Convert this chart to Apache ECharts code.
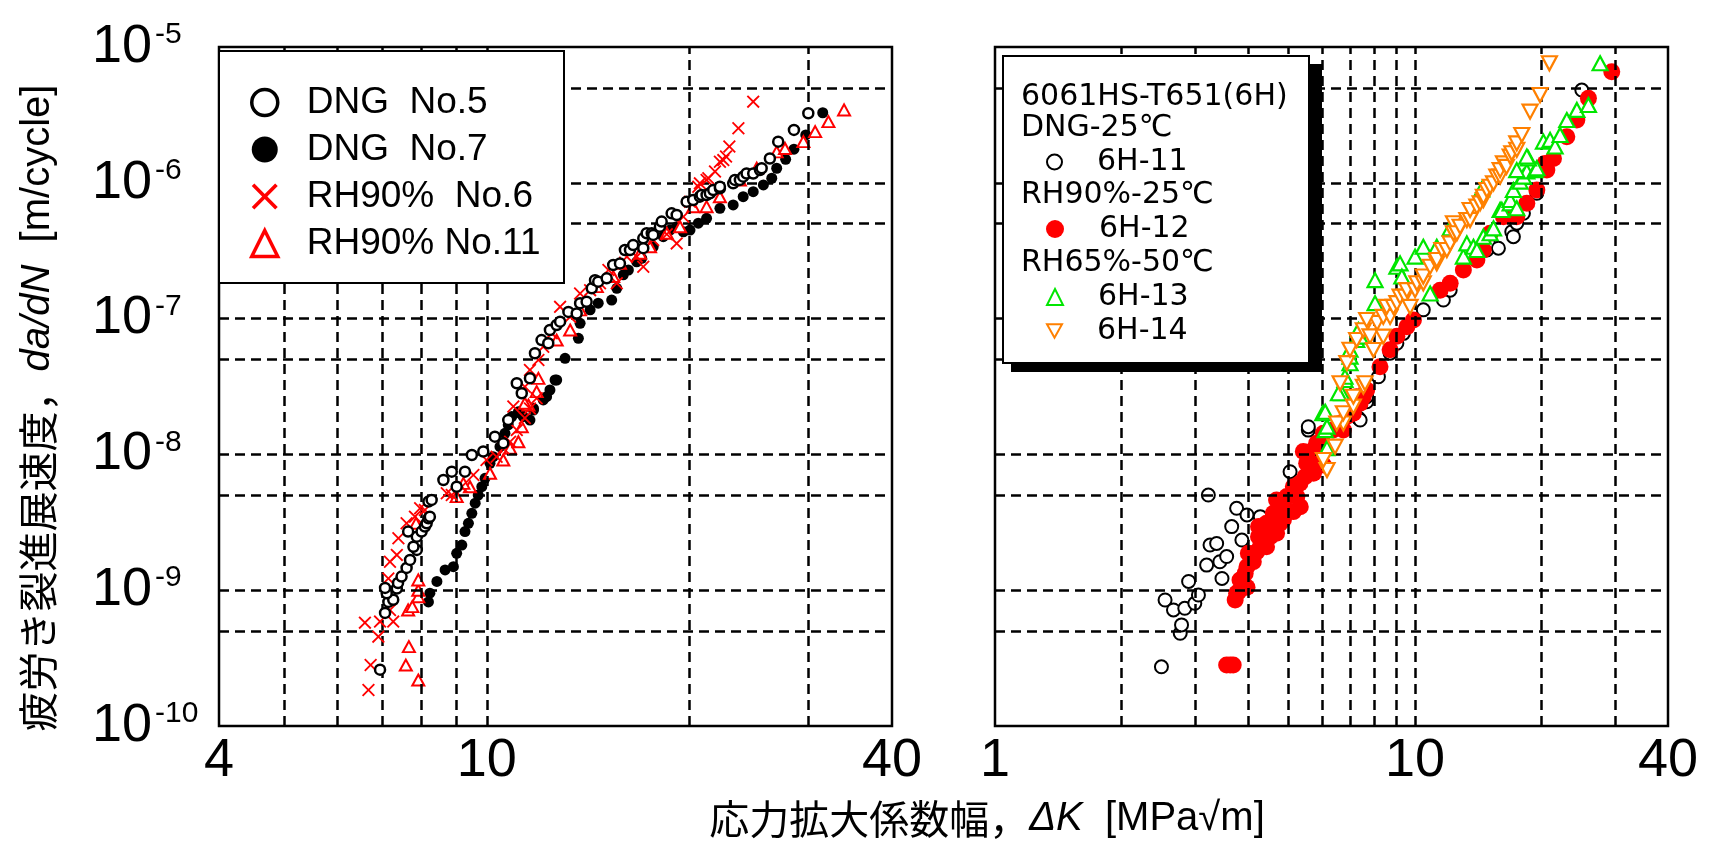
<!DOCTYPE html>
<html><head><meta charset="utf-8">
<script src="https://cdn.jsdelivr.net/npm/echarts@6/dist/echarts.min.js"></script>
<style>html,body{margin:0;padding:0;background:#fff}#c{width:1714px;height:847px}</style>
</head><body><div id="c"></div>
<script>
// ---------- data (ΔK [MPa√m], da/dN [m/cycle]) ----------
const dngNo5 = [[6.94,2.6e-10],[7.06,6.8e-10],[7.14,8.2e-10],[7.26,8.5e-10],[7.10,9.5e-10],[7.06,1.04e-9],[7.35,1.03e-9],[7.38,1.13e-9],[7.47,1.26e-9],[7.60,1.46e-9],[7.69,1.67e-9],[7.87,1.98e-9],[7.78,2.09e-9],[7.87,2.48e-9],[7.64,2.70e-9],[8.00,2.70e-9],[8.09,2.94e-9],[8.14,3.11e-9],[8.19,3.38e-9],[8.23,3.48e-9],[8.19,4.49e-9],[8.28,4.62e-9],[8.62,6.48e-9],[8.87,7.46e-9],[9.02,5.78e-9],[9.28,7.46e-9],[9.50,9.9e-9],[9.88,1.05e-8],[10.28,1.35e-8],[10.58,1.21e-8],[10.76,1.79e-8],[11.08,3.34e-8],[11.27,2.82e-8],[11.59,3.63e-8],[11.79,5.56e-8],[12.06,6.95e-8],[12.34,6.58e-8],[12.41,8.24e-8],[12.70,8.97e-8],[12.85,9.49e-8],[13.22,1.12e-7],[13.60,1.09e-7],[13.76,1.30e-7],[14.07,1.33e-7],[14.32,1.67e-7],[14.48,1.92e-7],[14.64,1.87e-7],[15.07,1.98e-7],[15.41,2.48e-7],[15.77,2.55e-7],[16.04,3.20e-7],[16.32,3.20e-7],[16.50,3.48e-7],[17.08,3.90e-7],[17.08,3.30e-7],[17.28,4.25e-7],[17.58,4.25e-7],[17.67,4.13e-7],[18.08,4.75e-7],[18.19,5.18e-7],[18.82,5.96e-7],[19.15,5.79e-7],[19.81,7.26e-7],[20.26,7.47e-7],[20.73,7.90e-7],[20.85,8.13e-7],[21.21,8.13e-7],[21.45,8.37e-7],[21.70,8.85e-7],[22.20,9.11e-7],[22.20,9.36e-7],[23.23,9.91e-7],[23.37,1.05e-6],[23.77,1.05e-6],[24.04,1.11e-6],[24.32,1.17e-6],[24.88,1.17e-6],[25.46,1.24e-6],[25.61,1.28e-6],[26.34,1.51e-6],[27.10,2.01e-6],[28.60,2.45e-6],[30.04,3.25e-6]];
const dngNo7 = [[8.19,8.2e-10],[8.23,9.5e-10],[8.43,1.16e-9],[8.67,1.41e-9],[8.92,1.49e-9],[9.02,1.87e-9],[9.18,2.15e-9],[9.28,2.70e-9],[9.39,3.11e-9],[9.50,3.68e-9],[9.61,4.37e-9],[9.71,5.02e-9],[9.83,5.78e-9],[9.94,6.67e-9],[10.11,8.6e-9],[10.22,9.62e-9],[10.46,1.14e-8],[10.64,1.43e-8],[10.76,1.65e-8],[10.89,1.90e-8],[11.14,2.06e-8],[11.33,1.90e-8],[11.59,1.79e-8],[11.73,2.18e-8],[12.13,2.52e-8],[12.41,2.98e-8],[12.70,3.53e-8],[11.20,2.01e-8],[11.73,2.12e-8],[12.27,2.66e-8],[12.63,3.53e-8],[13.07,5.10e-8],[13.68,7.16e-8],[13.76,9.23e-8],[14.24,1.16e-7],[14.64,1.30e-7],[15.33,1.37e-7],[15.60,1.67e-7],[15.95,2.10e-7],[16.23,2.28e-7],[16.70,2.62e-7],[16.99,2.78e-7],[17.67,3.38e-7],[18.29,4.01e-7],[18.71,4.49e-7],[19.15,4.75e-7],[19.59,4.36e-7],[20.04,4.49e-7],[20.62,5.04e-7],[21.21,5.48e-7],[22.20,6.49e-7],[23.23,6.87e-7],[24.04,7.90e-7],[24.88,8.60e-7],[25.76,9.64e-7],[26.51,1.08e-6],[26.96,1.28e-6],[27.80,1.49e-6],[28.60,1.77e-6],[29.78,2.25e-6],[31.56,3.28e-6]];
const rh90No6 = [[6.67,1.84e-10],[6.72,2.81e-10],[6.90,4.55e-10],[6.59,5.77e-10],[6.94,5.87e-10],[7.26,5.87e-10],[7.18,7.15e-10],[7.14,1.22e-9],[7.18,1.62e-9],[7.35,1.82e-9],[7.39,2.41e-9],[7.60,3.11e-9],[7.82,3.48e-9],[7.96,4.01e-9],[8.09,3.90e-9],[8.72,5.18e-9],[8.87,5.02e-9],[9.18,5.78e-9],[9.55,7.05e-9],[9.99,9.1e-9],[10.34,9.62e-9],[10.58,1.11e-8],[10.83,1.24e-8],[11.08,1.51e-8],[11.39,1.85e-8],[11.59,2.18e-8],[11.86,2.59e-8],[10.95,2.25e-8],[11.39,3.15e-8],[11.59,4.18e-8],[11.93,4.96e-8],[12.13,6.21e-8],[12.49,7.79e-8],[12.85,1.22e-7],[13.30,1.03e-7],[13.76,1.53e-7],[14.24,1.62e-7],[14.73,1.82e-7],[15.16,2.28e-7],[15.60,1.82e-7],[16.15,2.86e-7],[16.70,2.86e-7],[17.08,2.41e-7],[17.67,3.79e-7],[18.51,4.18e-7],[19.15,3.58e-7],[19.59,5.63e-7],[20.04,7.26e-7],[20.62,9.36e-7],[20.73,9.91e-7],[21.21,1.05e-6],[21.34,1.08e-6],[21.83,1.21e-6],[22.20,1.43e-6],[22.46,1.47e-6],[22.67,1.56e-6],[22.93,1.85e-6],[23.65,2.52e-6],[24.88,3.96e-6]];
const rh90No11 = [[7.91,2.18e-10],[7.58,2.81e-10],[7.66,3.84e-10],[7.64,7.15e-10],[7.75,7.57e-10],[7.91,8.96e-10],[7.91,1.0e-9],[7.91,1.19e-9],[7.85,3.11e-9],[9.02,4.89e-9],[9.44,5.78e-9],[9.23,6.12e-9],[10.11,7.26e-9],[10.58,9.1e-9],[10.83,1.11e-8],[11.14,1.24e-8],[11.27,1.6e-8],[11.53,2.31e-8],[11.86,2.9e-8],[11.39,2.38e-8],[11.93,3.63e-8],[12.70,6.95e-8],[13.30,8.24e-8],[13.76,1.16e-7],[14.57,1.72e-7],[15.41,2.04e-7],[15.77,2.55e-7],[16.89,3.03e-7],[17.48,3.38e-7],[18.51,4.25e-7],[19.37,4.75e-7],[20.26,6.67e-7],[21.21,6.67e-7],[22.20,7.9e-7],[23.77,1.05e-6],[25.18,1.28e-6],[26.96,1.69e-6],[27.74,1.79e-6],[29.54,2.01e-6],[30.75,2.38e-6],[32.18,2.82e-6],[33.95,3.44e-6]];

const s6H11 = [[2.49,2.73e-10],[2.76,4.82e-10],[2.78,5.55e-10],[2.54,8.47e-10],[2.66,7.15e-10],[2.83,7.36e-10],[2.99,8.01e-10],[3.05,9.22e-10],[2.89,1.16e-9],[3.19,1.53e-9],[3.43,1.62e-9],[3.47,1.22e-9],[3.56,1.77e-9],[3.25,2.15e-9],[3.37,2.21e-9],[3.66,2.94e-9],[3.87,2.34e-9],[3.76,4.01e-9],[3.98,3.58e-9],[3.22,5.02e-9],[4.28,3.48e-9],[5.04,7.46e-9],[5.57,1.51e-8],[5.57,1.6e-8],[7.33,1.85e-8],[7.40,1.79e-8],[7.67,2.44e-8],[7.67,2.66e-8],[8.18,3.73e-8],[8.72,5.56e-8],[9.05,6.58e-8],[9.38,7.79e-8],[10.46,1.16e-7],[11.68,1.37e-7],[12.12,1.62e-7],[14.82,3.2e-7],[14.95,3.58e-7],[15.79,3.3e-7],[16.99,4.36e-7],[17.14,4.01e-7],[17.46,5.04e-7],[18.11,5.96e-7],[19.49,8.37e-7],[24.94,4.82e-6]];
const s6H12 = [[3.56,2.81e-10],[3.63,2.81e-10],[3.69,2.81e-10],[3.73,8.47e-10],[3.76,9.5e-10],[3.80,9.75e-10],[3.98,1.05e-9],[3.83,1.19e-9],[3.94,1.33e-9],[3.98,1.49e-9],[4.12,1.62e-9],[4.12,1.77e-9],[4.01,1.87e-9],[4.20,1.92e-9],[4.28,2.09e-9],[4.43,2.09e-9],[4.24,2.48e-9],[4.52,2.48e-9],[4.68,2.63e-9],[4.24,2.94e-9],[4.43,3.11e-9],[4.86,3.3e-9],[4.60,3.68e-9],[4.77,3.11e-9],[4.95,3.9e-9],[4.68,4.62e-9],[4.95,4.89e-9],[5.23,4.89e-9],[5.13,3.79e-9],[5.33,4.12e-9],[5.13,5.78e-9],[5.32,6.12e-9],[5.47,6.85e-9],[5.73,7.26e-9],[5.52,8.6e-9],[5.62,8.6e-9],[5.73,9.1e-9],[5.73,1.08e-8],[5.42,1.05e-8],[5.94,1.14e-8],[6.05,8.36e-9],[5.83,1.21e-8],[6.05,1.43e-8],[6.38,1.51e-8],[6.63,1.69e-8],[6.75,1.51e-8],[6.88,1.9e-8],[7.13,2.01e-8],[7.26,2.66e-8],[7.40,2.38e-8],[7.53,2.66e-8],[7.67,2.98e-8],[8.25,4.42e-8],[8.72,5.9e-8],[9.05,7.4e-8],[9.56,8.71e-8],[9.91,9.77e-8],[11.47,1.62e-7],[12.12,1.82e-7],[13.03,2.28e-7],[14.03,2.7e-7],[14.54,3.2e-7],[15.09,4.25e-7],[16.23,5.63e-7],[17.46,5.63e-7],[18.45,7.06e-7],[19.49,8.85e-7],[20.59,1.24e-6],[20.39,1.39e-6],[21.35,1.51e-6],[22.97,2.18e-6],[24.27,2.90e-6],[25.86,4.19e-6],[29.39,6.58e-6]];
const s6H13 = [[6.17,1.11e-8],[6.11,1.51e-8],[6.17,1.6e-8],[6.03,2.01e-8],[6.11,2.06e-8],[6.69,2.82e-8],[6.57,2.82e-8],[6.81,3.53e-8],[6.81,3.73e-8],[7.00,4.69e-8],[7.00,5.25e-8],[7.00,5.9e-8],[7.26,6.95e-8],[7.40,7.36e-8],[7.33,8.24e-8],[8.03,1.3e-7],[8.03,1.92e-7],[9.05,2.41e-7],[9.21,2.55e-7],[9.30,2.04e-7],[10.0,2.86e-7],[10.46,3.38e-7],[10.86,1.53e-7],[11.26,3.38e-7],[12.12,4.62e-7],[13.03,2.86e-7],[13.28,3.58e-7],[13.77,3.38e-7],[14.03,3.2e-7],[14.54,4.01e-7],[15.09,4.25e-7],[15.37,4.62e-7],[14.41,8.95e-7],[15.94,6.31e-7],[16.09,6.31e-7],[16.84,7.06e-7],[16.84,7.47e-7],[17.46,6.49e-7],[17.14,8.85e-7],[17.78,1.02e-6],[18.11,1.11e-6],[18.45,1.21e-6],[17.46,1.24e-6],[19.31,1.24e-6],[19.49,1.28e-6],[18.61,1.51e-6],[18.45,1.56e-6],[20.21,2.01e-6],[20.96,2.07e-6],[21.54,1.85e-6],[22.14,2.25e-6],[22.97,2.90e-6],[24.27,3.44e-6],[25.86,3.74e-6],[27.57,7.59e-6]];
const s6H14 = [[6.17,7.67e-9],[6.05,9.1e-9],[6.45,1.14e-8],[6.75,1.69e-8],[6.51,1.69e-8],[6.75,2.01e-8],[7.13,2.25e-8],[7.13,2.66e-8],[7.53,3.15e-8],[7.60,3.34e-8],[6.63,3.34e-8],[6.88,4.7e-8],[7.00,5.9e-8],[7.26,6.95e-8],[7.53,8.2e-8],[7.81,7.4e-8],[7.96,5.87e-8],[8.12,9.3e-8],[8.40,7.36e-8],[7.67,9.77e-8],[8.40,1.03e-7],[8.72,1.03e-7],[8.56,1.22e-7],[8.88,1.22e-7],[9.05,1.3e-7],[9.21,1.45e-7],[9.47,1.45e-7],[9.56,1.62e-7],[9.73,1.22e-7],[10.0,1.62e-7],[10.1,1.82e-7],[10.46,1.82e-7],[10.46,2.04e-7],[10.86,2.41e-7],[11.26,2.55e-7],[11.26,2.7e-7],[11.58,3.2e-7],[11.90,3.2e-7],[12.12,3.58e-7],[12.34,4.25e-7],[12.34,5.04e-7],[12.57,4.25e-7],[12.8,4.75e-7],[13.28,5.32e-7],[13.52,5.32e-7],[13.52,6.31e-7],[14.03,6.67e-7],[14.28,7.06e-7],[14.54,7.47e-7],[14.54,7.9e-7],[14.82,8.85e-7],[15.09,9.36e-7],[15.37,9.91e-7],[15.65,1.11e-6],[15.94,1.11e-6],[15.94,1.24e-6],[16.23,1.39e-6],[16.5,1.31e-6],[16.84,1.56e-6],[16.99,1.65e-6],[17.46,1.75e-6],[17.46,1.95e-6],[17.95,2.25e-6],[18.78,3.34e-6],[19.84,4.43e-6],[20.88,7.59e-6]];

// grid-line positions
const leftGridX = [5, 6, 7, 8, 9, 10, 20, 30];
const rightGridX = [2, 3, 4, 5, 6, 7, 8, 9, 10, 20, 30];
const gridY = [5e-6, 1e-6, 5e-7, 1e-7, 5e-8, 1e-8, 5e-9, 1e-9, 5e-10];
const leftRangeX = [4, 40];
const rightRangeX = [1, 40];
const rangeY = [1e-10, 1e-5];

// legend / annotation texts
const leftNames = ['DNG  No.5', 'DNG  No.7', 'RH90%  No.6', 'RH90% No.11'];
const rightNames = ['6H-11', '6H-12', '6H-13', '6H-14'];
const rightHeads = ['6061HS-T651(6H)', 'DNG-25℃', 'RH90%-25℃', 'RH65%-50℃'];

// ---------- chart ----------
const LAT = "'Liberation Sans', Arial, sans-serif";
const DJV = "'DejaVu Sans', sans-serif";
const CJK = "'Noto Sans CJK JP', sans-serif";
const xPath = 'path://M1,0L5,4L9,0L10,1L6,5L10,9L9,10L5,6L1,10L0,9L4,5L0,1Z';
const downTri = 'path://M0,0L10,0L5,9Z';

const chart = echarts.init(document.getElementById('c'), null, {renderer: 'canvas'});

const dash = {color: '#000', width: 2.5, type: [10, 6]};
function gridSeries(xi, xs, rx) {
  const lines = xs.map(v => [{coord: [v, rangeY[0]]}, {coord: [v, rangeY[1]]}])
    .concat(gridY.map(v => [{coord: [rx[0], v]}, {coord: [rx[1], v]}]));
  return {
    type: 'scatter', name: 'grid' + xi, xAxisIndex: xi, yAxisIndex: xi, data: [], z: 1,
    silent: true,
    markLine: {
      silent: true, symbol: ['none', 'none'], label: {show: false}, lineStyle: dash,
      emphasis: {disabled: true}, animation: false, data: lines
    }
  };
}

const yLabel = {
  show: true, align: 'left', margin: 127,
  formatter: v => '{b|10}{s|' + Math.round(Math.log10(v)) + '}',
  rich: {
    b: {fontSize: 54, fontFamily: LAT, color: '#000', lineHeight: 54},
    s: {fontSize: 30, fontFamily: LAT, color: '#000', lineHeight: 18, verticalAlign: 'top', padding: [0, 0, 0, 3]}
  }
};
const xLabel = {
  show: true, margin: 8, fontSize: 54, fontFamily: LAT, color: '#000',
  formatter: v => String(Math.round(v))
};

function xAx(gi, r) {
  return {type: 'log', logBase: 10, gridIndex: gi, min: r[0], max: r[1],
    axisLine: {show: false}, axisTick: {show: false}, splitLine: {show: false}, axisLabel: xLabel};
}
function yAx(gi, labels) {
  return {type: 'log', logBase: 10, gridIndex: gi, min: rangeY[0], max: rangeY[1],
    axisLine: {show: false}, axisTick: {show: false}, splitLine: {show: false},
    axisLabel: labels ? yLabel : {show: false}};
}

function rightLegend(name, cy, size) {
  return {
    data: [{name: name}], orient: 'vertical', left: 1046, top: cy - 15, padding: 0,
    itemWidth: size, itemHeight: size, z: 20, selectedMode: false,
    textStyle: {fontSize: 30, fontFamily: DJV, color: '#000', lineHeight: 30, padding: [0, 0, 0, 30]}
  };
}

const option = {
  backgroundColor: '#fff',
  animation: false,
  grid: [
    {left: 219, top: 47, width: 673, height: 679, show: true, borderColor: '#000', borderWidth: 2.5, backgroundColor: '#fff'},
    {left: 995, top: 47, width: 673, height: 679, show: true, borderColor: '#000', borderWidth: 2.5, backgroundColor: '#fff'}
  ],
  xAxis: [xAx(0, leftRangeX), xAx(1, rightRangeX)],
  yAxis: [yAx(0, true), yAx(1, false)],
  legend: [
    {
      data: [
        {name: leftNames[0], itemStyle: {borderWidth: 3.5}},
        {name: leftNames[1]},
        {name: leftNames[2]},
        {name: leftNames[3], itemStyle: {borderWidth: 3.5}}
      ],
      orient: 'vertical', left: 250, top: 84, padding: 0, itemGap: 10,
      itemWidth: 26, itemHeight: 26, z: 20, selectedMode: false,
      textStyle: {fontSize: 37, fontFamily: LAT, color: '#000', lineHeight: 35, padding: [0, 0, 0, 24]}
    },
    rightLegend(rightNames[0], 162, 15),
    rightLegend(rightNames[1], 229, 18),
    rightLegend(rightNames[2], 297, 16),
    rightLegend(rightNames[3], 331, 15)
  ],
  graphic: [
    {type: 'rect', z: 10, shape: {x: 219, y: 51, width: 345, height: 232},
      style: {fill: '#fff', stroke: '#000', lineWidth: 2}},
    {type: 'rect', z: 10, shape: {x: 1011, y: 64, width: 311, height: 308}, style: {fill: '#000'}},
    {type: 'rect', z: 11, shape: {x: 1003, y: 56, width: 306, height: 307},
      style: {fill: '#fff', stroke: '#000', lineWidth: 2}},
    {type: 'text', z: 12, x: 1021, y: 97, style: {text: rightHeads[0], font: '30px ' + DJV, fill: '#000', textVerticalAlign: 'middle'}},
    {type: 'text', z: 12, x: 1021, y: 128, style: {text: rightHeads[1], font: '30px ' + DJV, fill: '#000', textVerticalAlign: 'middle'}},
    {type: 'text', z: 12, x: 1021, y: 195, style: {text: rightHeads[2], font: '30px ' + DJV, fill: '#000', textVerticalAlign: 'middle'}},
    {type: 'text', z: 12, x: 1021, y: 263, style: {text: rightHeads[3], font: '30px ' + DJV, fill: '#000', textVerticalAlign: 'middle'}},
    {type: 'text', z: 12, x: 987, y: 819, style: {
      text: '{a|応力拡大係数幅，}{i|ΔK}{b|  [MPa√m]}', textAlign: 'center', textVerticalAlign: 'middle',
      rich: {
        a: {fontSize: 40, fontFamily: CJK, fill: '#000'},
        i: {fontSize: 40, fontFamily: LAT, fontStyle: 'italic', fill: '#000'},
        b: {fontSize: 40, fontFamily: LAT, fill: '#000'}
      }}},
    {type: 'text', z: 12, x: 38, y: 408, rotation: Math.PI / 2, style: {
      text: '{a|疲労き裂進展速度，}{i|da/dN}{b|  [m/cycle]}', textAlign: 'center', textVerticalAlign: 'middle',
      rich: {
        a: {fontSize: 40, fontFamily: CJK, fill: '#000'},
        i: {fontSize: 40, fontFamily: LAT, fontStyle: 'italic', fill: '#000'},
        b: {fontSize: 40, fontFamily: LAT, fill: '#000'}
      }}}
  ],
  series: [
    gridSeries(0, leftGridX, leftRangeX),
    gridSeries(1, rightGridX, rightRangeX),
    {name: leftNames[1], type: 'scatter', xAxisIndex: 0, yAxisIndex: 0, data: dngNo7, z: 3,
      symbol: 'circle', symbolSize: 11, itemStyle: {color: '#000', opacity: 1}},
    {name: leftNames[3], type: 'scatter', xAxisIndex: 0, yAxisIndex: 0, data: rh90No11, z: 4,
      symbol: 'triangle', symbolSize: [12, 11], itemStyle: {color: '#fff', borderColor: '#ff0000', borderWidth: 2, opacity: 1}},
    {name: leftNames[2], type: 'scatter', xAxisIndex: 0, yAxisIndex: 0, data: rh90No6, z: 5,
      symbol: xPath, symbolSize: 13, itemStyle: {color: '#ff0000', opacity: 1}},
    {name: leftNames[0], type: 'scatter', xAxisIndex: 0, yAxisIndex: 0, data: dngNo5, z: 6,
      symbol: 'circle', symbolSize: 10, itemStyle: {color: '#fff', borderColor: '#000', borderWidth: 2.5, opacity: 1}},
    {name: rightNames[0], type: 'scatter', xAxisIndex: 1, yAxisIndex: 1, data: s6H11, z: 3,
      symbol: 'circle', symbolSize: 13, itemStyle: {color: '#fff', borderColor: '#000', borderWidth: 2, opacity: 1}},
    {name: rightNames[1], type: 'scatter', xAxisIndex: 1, yAxisIndex: 1, data: s6H12, z: 4,
      symbol: 'circle', symbolSize: 17, itemStyle: {color: '#ff0000', opacity: 1}},
    {name: rightNames[2], type: 'scatter', xAxisIndex: 1, yAxisIndex: 1, data: s6H13, z: 5,
      symbol: 'triangle', symbolSize: [15, 14], itemStyle: {color: '#fff', borderColor: '#00e600', borderWidth: 2.2, opacity: 1}},
    {name: rightNames[3], type: 'scatter', xAxisIndex: 1, yAxisIndex: 1, data: s6H14, z: 6,
      symbol: downTri, symbolSize: [15, 14], itemStyle: {color: '#fff', borderColor: '#ff8000', borderWidth: 2.2, opacity: 1}}
  ]
};
chart.setOption(option);
</script></body></html>
